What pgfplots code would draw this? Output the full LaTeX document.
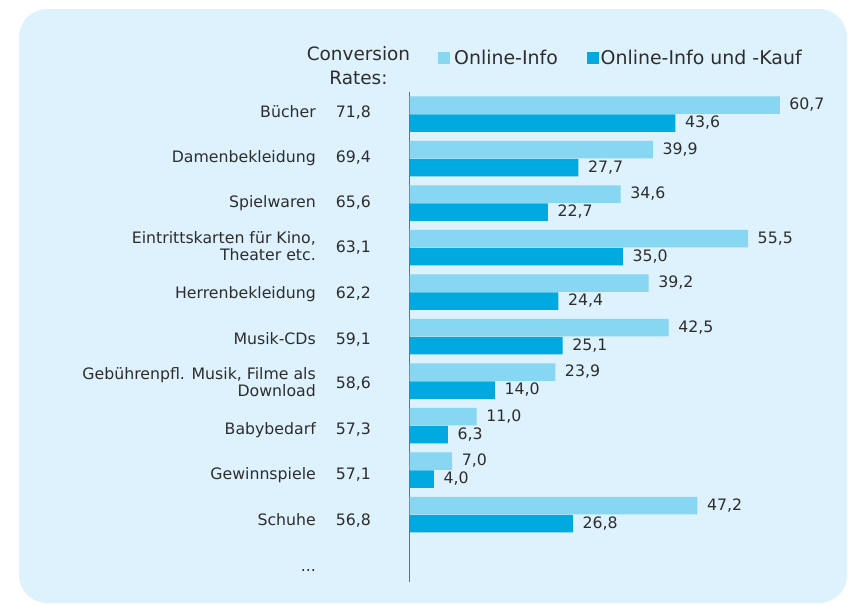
\documentclass[border=0pt]{standalone}
\usepackage{fontspec}
\setmainfont{DejaVu Sans}
\usepackage{pgfplots}
\pgfplotsset{compat=1.18}
\definecolor{bg}{RGB}{222,242,253}
\definecolor{lightbar}{RGB}{135,214,242}
\definecolor{darkbar}{RGB}{0,170,224}
\definecolor{axiscol}{RGB}{50,135,150}
\definecolor{txt}{RGB}{45,45,45}
\newcommand{\lab}[2]{#1\hspace{20bp}\makebox[39bp][l]{#2}}
\begin{document}
\begin{tikzpicture}
\useasboundingbox (0bp,0bp) rectangle (848bp,-606bp);
\fill[bg, rounded corners=28bp] (19bp,-9bp) rectangle (847bp,-603bp);
\node[font=\fontsize{18.5}{24}\selectfont, text=txt, anchor=base, inner sep=0pt] at (358.5bp,-60bp) {Conversion};
\node[font=\fontsize{18.5}{24}\selectfont, text=txt, anchor=base, inner sep=0pt] at (358.5bp,-84bp) {Rates:};
\begin{axis}[
  at={(409.5bp,-91.7bp)}, anchor=north west, scale only axis,
  width=427bp, height=490bp,
  xmin=0, xmax=70, ymin=-0.501, ymax=10.51, y dir=reverse,
  axis x line=none, axis y line=left,
  axis line style={-, draw=axiscol, line width=0.9pt},
  ytick={-0.029,0.989,2.007,3.025,4.043,5.061,6.079,7.097,8.115,9.133,10.151},
  major tick length=0pt,
  yticklabels={
    {\lab{Bücher}{71,8}},
    {\lab{Damenbekleidung}{69,4}},
    {\lab{Spielwaren}{65,6}},
    {\lab{\begin{tabular}{@{}r@{}}Eintrittskarten für Kino,\\Theater etc.\end{tabular}}{63,1}},
    {\lab{Herrenbekleidung}{62,2}},
    {\lab{Musik-CDs}{59,1}},
    {\lab{\begin{tabular}{@{}r@{}}Gebührenpfl. Musik, Filme als\\Download\end{tabular}}{58,6}},
    {\lab{Babybedarf}{57,3}},
    {\lab{Gewinnspiele}{57,1}},
    {\lab{Schuhe}{56,8}},
    {\lab{...}{\vphantom{0}}}
  },
  yticklabel style={anchor=east, inner sep=0pt, xshift=-34.5bp, font=\fontsize{15.8}{17.5}\selectfont, text=txt},
  xbar, bar width=17.5bp,
  point meta=x,
  nodes near coords,
  nodes near coords style={anchor=west, inner sep=0pt, xshift=9.5bp, font=\fontsize{15.8}{17.5}\selectfont, text=txt},
  /pgf/number format/use comma,
  /pgf/number format/fixed,
  /pgf/number format/fixed zerofill,
  /pgf/number format/precision=1,
  /pgf/number format/assume math mode=true,
  legend style={at={(axis description cs:0.0667,1.0688)}, anchor=west, draw=none, fill=none,
    font=\fontsize{19}{22}\selectfont, text=txt, inner sep=0pt,
    nodes={inner sep=0pt}, /tikz/every even column/.append style={column sep=0pt}},
  legend columns=2,
  legend cell align=left,
  legend image code/.code={\fill[#1] (0bp,-5.75bp) rectangle (11.5bp,5.75bp);},
  clip=false,
]
\addplot[fill=lightbar, draw=none, bar shift=9bp] coordinates {
  (60.7,0) (39.9,1) (34.6,2) (55.5,3) (39.2,4) (42.5,5) (23.9,6) (11.0,7) (7.0,8) (47.2,9)};
\addlegendentry{\hspace{4.5bp}\makebox[133bp][l]{Online-Info}}
\addplot[fill=darkbar, draw=none, bar shift=-9bp] coordinates {
  (43.6,0) (27.7,1) (22.7,2) (35.0,3) (24.4,4) (25.1,5) (14.0,6) (6.3,7) (4.0,8) (26.8,9)};
\addlegendentry{\hspace{2bp}Online-Info und -Kauf}
\end{axis}
\end{tikzpicture}
\end{document}
